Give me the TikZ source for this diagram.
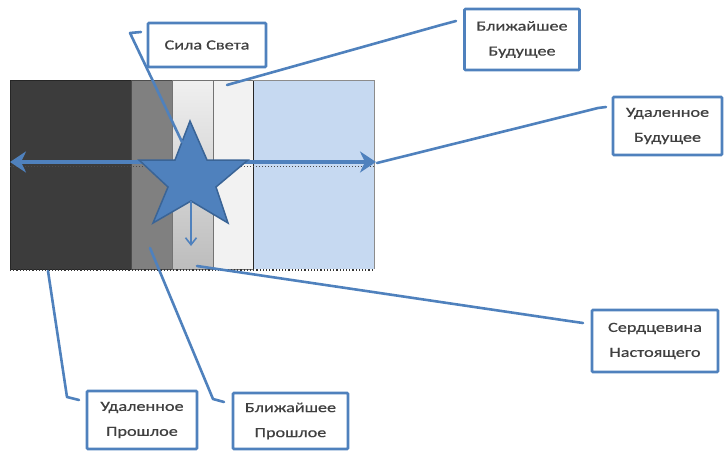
\documentclass[tikz,border=0pt]{standalone}
\usepackage{fontspec}
\newfontfamily\labfont{Carlito}[FakeStretch=1.3,FakeBold=0.6]
\usetikzlibrary{shapes.geometric,arrows.meta}
\definecolor{accent}{HTML}{4F81BD}
\definecolor{accentdark}{HTML}{3A6496}
\definecolor{txt}{HTML}{404040}
\definecolor{pone}{HTML}{3C3C3C}
\definecolor{ptwo}{HTML}{808080}
\definecolor{pfour}{HTML}{F2F2F2}
\definecolor{pfive}{HTML}{C6D9F1}
\begin{document}
\begin{tikzpicture}[x=1pt,y=-1pt,
  panel/.style={draw=black!70,line width=0.8pt},
  callout/.style={draw=accent,line width=2.8pt,fill=white,rounded corners=1pt,
    inner sep=0pt,align=center,text=txt,font=\labfont\fontsize{14}{25}\selectfont},
  leader/.style={draw=accent,line width=2.6pt,line cap=round,line join=round},
  bigarrow/.style={draw=accent,line width=4.5pt,-{Stealth[length=16pt,width=21pt,inset=5pt]}},
  starshape/.style={fill=accent,draw=accentdark,line width=1.5pt,line join=miter},
]
\useasboundingbox (0,0) rectangle (727,452);
% panels
\fill[pone] (10,80) rectangle (131,269);
\fill[ptwo] (131,80) rectangle (172,269);
\shade[top color=black!6,bottom color=black!26] (172,80) rectangle (213,269);
\fill[pfour] (213,80) rectangle (253,269);
\fill[pfive] (253,80) rectangle (374,269);
\draw[panel,draw=black!85] (10,80) rectangle (131,269);
\draw[panel] (131,80) rectangle (172,269);
\draw[panel,draw=black!55] (172,80) rectangle (213,269);
\draw[panel,draw=black!55] (213,80) rectangle (253,269);
\draw[panel,draw=black!85] (253,80) -- (253,269);
\draw[panel,draw=black!45] (253,80) -- (374,80) -- (374,269);
\draw[black!80,line width=1.2pt,dotted] (10,270) -- (374,270);
\draw[black!70,line width=1pt,dotted] (10,166) -- (374,166);
% star and arrows
\coordinate (starC) at (191,162);
\coordinate (leftTip) at (10,162);
\coordinate (rightTip) at (376,162);
\draw[bigarrow] (starC) -- (leftTip);
\draw[bigarrow] (starC) -- (rightTip);
\draw[starshape] (190,121) -- (175,160) -- (139,160) -- (168,187) -- (153,223)
  -- (191,201) -- (228,223) -- (216,187) -- (248,160) -- (207,160) -- cycle;
\coordinate (downStart) at (191,201);
\coordinate (downEnd) at (191,246);
\draw[accent,line width=1.6pt,-{Straight Barb[length=7pt,width=11pt]}] (downStart) -- (downEnd);
% callouts
\node[callout,minimum width=118pt,minimum height=44pt] (sila) at (207,45) {Сила Света};
\node[callout,minimum width=115pt,minimum height=61pt] (bf) at (522,39.5) {Ближайшее\\Будущее};
\node[callout,minimum width=109pt,minimum height=58pt] (uf) at (667.5,126) {Удаленное\\Будущее};
\node[callout,minimum width=126pt,minimum height=62pt] (sn) at (655,341) {Сердцевина\\Настоящего};
\node[callout,minimum width=110pt,minimum height=58pt] (up) at (142,420) {Удаленное\\Прошлое};
\node[callout,minimum width=115pt,minimum height=56pt] (bp) at (290.5,421) {Ближайшее\\Прошлое};
% leaders
\coordinate (silaA) at (182,142);
\coordinate (silaB) at (130,33);
\coordinate (silaC) at (141,32);
\draw[leader] (silaA) -- (silaB) -- (silaC);
\coordinate (bfA) at (227,85);
\coordinate (bfB) at (441,25);
\coordinate (bfC) at (456,21);
\draw[leader] (bfA) -- (bfB) -- (bfC);
\coordinate (ufA) at (377,163);
\coordinate (ufB) at (598,108);
\coordinate (ufC) at (606,107);
\draw[leader] (ufA) -- (ufB) -- (ufC);
\coordinate (snA) at (197,266);
\coordinate (snB) at (569,321);
\coordinate (snC) at (583,323);
\draw[leader] (snA) -- (snB) -- (snC);
\coordinate (upA) at (48,271);
\coordinate (upB) at (67,397);
\coordinate (upC) at (79,400);
\draw[leader] (upA) -- (upB) -- (upC);
\coordinate (bpA) at (150,248);
\coordinate (bpB) at (213,399);
\coordinate (bpC) at (224,402);
\draw[leader] (bpA) -- (bpB) -- (bpC);
\end{tikzpicture}
\end{document}
